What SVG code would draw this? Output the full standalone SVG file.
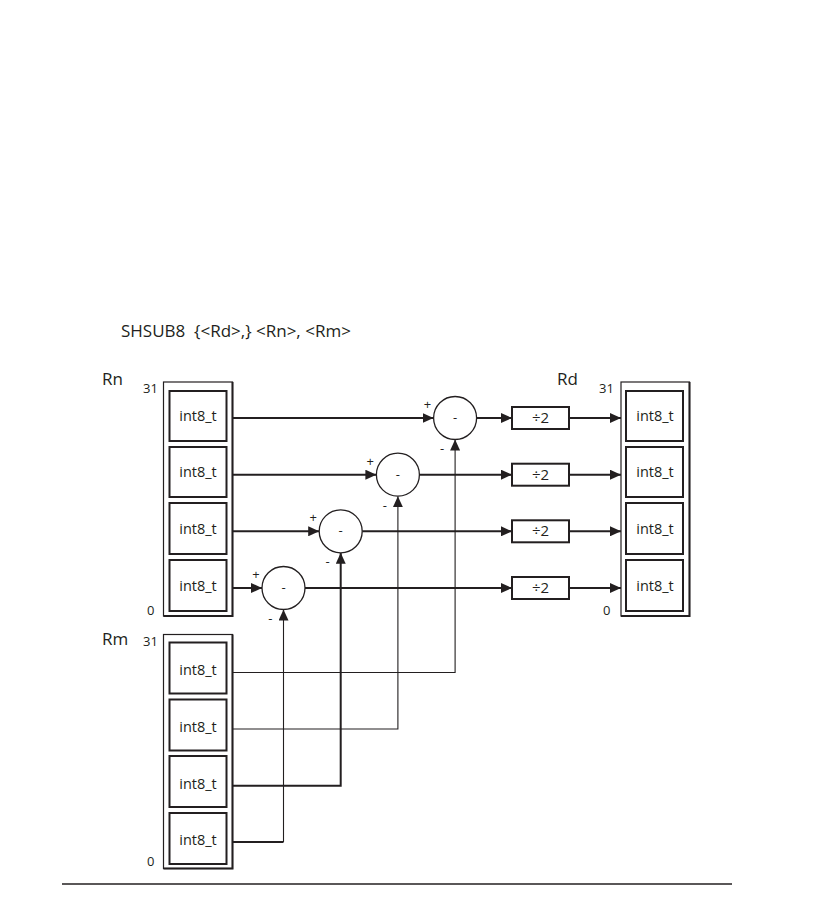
<svg xmlns="http://www.w3.org/2000/svg" width="834" height="913" viewBox="0 0 834 913">
<style>
text{font-family:"Open Sans","Noto Sans","Liberation Sans",sans-serif;fill:#231f20}
.t{font-size:17px}
.lb{font-size:17px}
.n{font-size:13px}
.c{font-size:14.5px;text-anchor:middle}
.d{font-size:15px;text-anchor:middle}
.s{font-size:13px;text-anchor:middle}
.outer{fill:none;stroke:#231f20;stroke-width:1.2}
.inner{fill:#fff;stroke:#231f20;stroke-width:2}
.circ{fill:#fff;stroke:#231f20;stroke-width:1.3}
.thick{fill:none;stroke:#231f20;stroke-width:2}
.thin{fill:none;stroke:#231f20;stroke-width:1.1}
</style>
<defs>
<marker id="ah" markerUnits="userSpaceOnUse" markerWidth="12" markerHeight="10" refX="11" refY="5" orient="auto">
<path d="M0,0 L11,5 L0,10 Z" fill="#231f20"/>
</marker>
</defs>

<text class="t" x="121" y="337" xml:space="preserve">SHSUB8  {&lt;Rd&gt;,} &lt;Rn&gt;, &lt;Rm&gt;</text>

<g id="Rn">
<text class="lb" x="102" y="385">Rn</text>
<text class="n" x="143" y="393">31</text>
<text class="n" x="147" y="615">0</text>
<rect class="outer" x="163.5" y="382" width="69" height="234"/>
<path class="thick" d="M232.5,382 V616 H163.5"/>
<rect class="inner" x="169.5" y="391" width="57" height="50"/>
<text class="c" x="198" y="421">int8_t</text>
<rect class="inner" x="169.5" y="447" width="57" height="50"/>
<text class="c" x="198" y="477">int8_t</text>
<rect class="inner" x="169.5" y="503" width="57" height="51"/>
<text class="c" x="198" y="534">int8_t</text>
<rect class="inner" x="169.5" y="560" width="57" height="51"/>
<text class="c" x="198" y="591">int8_t</text>
</g>

<g id="Rm">
<text class="lb" x="102" y="645">Rm</text>
<text class="n" x="143" y="646">31</text>
<text class="n" x="147" y="866">0</text>
<rect class="outer" x="163.5" y="634.5" width="69" height="234"/>
<path class="thick" d="M232.5,634.5 V868.5 H163.5"/>
<rect class="inner" x="169.5" y="642.5" width="57" height="51"/>
<text class="c" x="198" y="675">int8_t</text>
<rect class="inner" x="169.5" y="699.5" width="57" height="51"/>
<text class="c" x="198" y="732">int8_t</text>
<rect class="inner" x="169.5" y="756" width="57" height="51"/>
<text class="c" x="198" y="789">int8_t</text>
<rect class="inner" x="169.5" y="813" width="57" height="51"/>
<text class="c" x="198" y="845">int8_t</text>
</g>

<g id="Rd">
<text class="lb" x="557" y="385">Rd</text>
<text class="n" x="599" y="393">31</text>
<text class="n" x="603" y="615">0</text>
<rect class="outer" x="621" y="382" width="68.5" height="234"/>
<path class="thick" d="M689.5,382 V616 H621"/>
<rect class="inner" x="626" y="391" width="57" height="50"/>
<text class="c" x="655" y="421">int8_t</text>
<rect class="inner" x="626" y="447" width="57" height="50"/>
<text class="c" x="655" y="477">int8_t</text>
<rect class="inner" x="626" y="503" width="57" height="51"/>
<text class="c" x="655" y="534">int8_t</text>
<rect class="inner" x="626" y="560" width="57" height="51"/>
<text class="c" x="655" y="591">int8_t</text>
</g>

<g id="connectors">
<path class="thick" d="M232.5,418 H433.5" marker-end="url(#ah)"/>
<path class="thick" d="M232.5,474.7 H376.4" marker-end="url(#ah)"/>
<path class="thick" d="M232.5,531.3 H319.2" marker-end="url(#ah)"/>
<path class="thick" d="M232.5,588 H262" marker-end="url(#ah)"/>
<path class="thick" d="M476.6,418 H512" marker-end="url(#ah)"/>
<path class="thick" d="M419.4,474.7 H512" marker-end="url(#ah)"/>
<path class="thick" d="M362.2,531.3 H512" marker-end="url(#ah)"/>
<path class="thick" d="M305,588 H512" marker-end="url(#ah)"/>
<path class="thick" d="M569,418 H621" marker-end="url(#ah)"/>
<path class="thick" d="M569,474.7 H621" marker-end="url(#ah)"/>
<path class="thick" d="M569,531.3 H621" marker-end="url(#ah)"/>
<path class="thick" d="M569,588 H621" marker-end="url(#ah)"/>
<path class="thin" d="M232.5,672.5 H455.1 V439.5" marker-end="url(#ah)"/>
<path class="thin" d="M232.5,729 H397.9 V496.2" marker-end="url(#ah)"/>
<path class="thick" d="M232.5,785.7 H340.7 V552.8" marker-end="url(#ah)"/>
<path class="thick" d="M232.5,842 H283.5"/>
<path class="thin" d="M283.5,842 V609.5" marker-end="url(#ah)"/>
<path d="M62,884 H732" stroke="#231f20" stroke-width="1.5"/>
</g>

<g id="sub1">
<circle class="circ" cx="455.1" cy="418" r="21.5"/>
<text class="s" x="455.1" y="422">-</text>
<text class="s" x="427.5" y="409">+</text>
<text class="s" x="442" y="453">-</text>
</g>
<g id="sub2">
<circle class="circ" cx="397.9" cy="474.7" r="21.5"/>
<text class="s" x="397.9" y="478.7">-</text>
<text class="s" x="370.3" y="465.7">+</text>
<text class="s" x="384.8" y="509.7">-</text>
</g>
<g id="sub3">
<circle class="circ" cx="340.7" cy="531.3" r="21.5"/>
<text class="s" x="340.7" y="535.3">-</text>
<text class="s" x="313.1" y="522.3">+</text>
<text class="s" x="327.6" y="566.3">-</text>
</g>
<g id="sub4">
<circle class="circ" cx="283.5" cy="588" r="21.5"/>
<text class="s" x="283.5" y="592">-</text>
<text class="s" x="255.9" y="579">+</text>
<text class="s" x="270.4" y="623">-</text>
</g>

<g id="div1"><rect class="inner" x="512" y="407" width="57" height="22"/><text class="d" x="540.5" y="423">÷2</text></g>
<g id="div2"><rect class="inner" x="512" y="463.7" width="57" height="22"/><text class="d" x="540.5" y="479.7">÷2</text></g>
<g id="div3"><rect class="inner" x="512" y="520.3" width="57" height="22"/><text class="d" x="540.5" y="536.3">÷2</text></g>
<g id="div4"><rect class="inner" x="512" y="577" width="57" height="22"/><text class="d" x="540.5" y="593">÷2</text></g>
</svg>
